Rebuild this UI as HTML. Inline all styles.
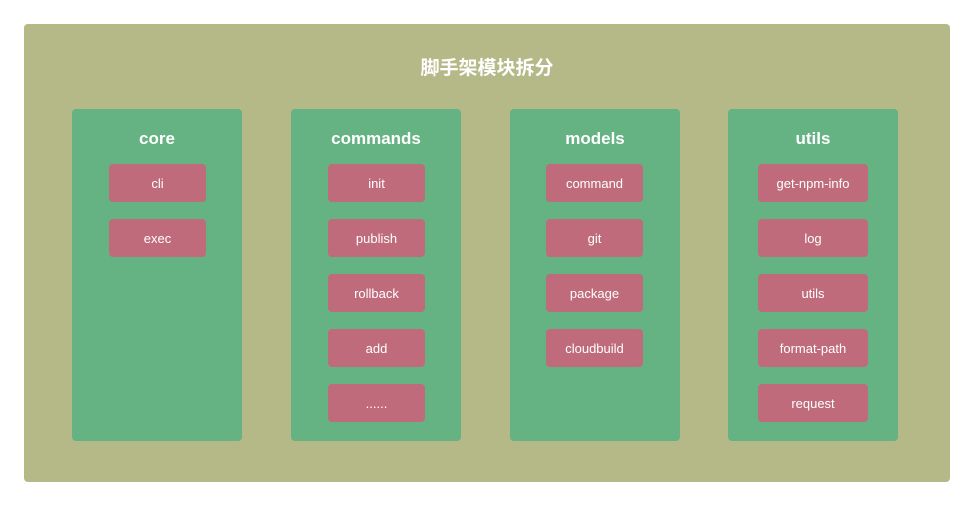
<!DOCTYPE html>
<html><head><meta charset="utf-8"><style>
body{margin:0;width:975px;height:507px;background:#fff;position:relative;font-family:"Liberation Sans","Noto Sans CJK SC",sans-serif;overflow:hidden}
.o{position:absolute;left:24px;top:24px;width:926px;height:458px;background:#b5b987;border-radius:4px}
.t{position:absolute;left:24px;width:926px;top:53px;text-align:center;color:#fff;font-weight:bold;font-size:19px}
.c{position:absolute;top:109px;width:170px;height:332px;background:#65b383;border-radius:4px}
.ct{position:absolute;top:129px;width:170px;text-align:center;color:#fff;font-weight:bold;font-size:17px}
.i{position:absolute;height:38px;line-height:40px;background:#bf6b7b;border-radius:4px;color:#fff;font-size:13px;text-align:center}
</style></head><body>
<div class="o"></div>
<div class="t">脚手架模块拆分</div>
<div class="c" style="left:72px"></div><div class="ct" style="left:72px">core</div>
<div class="c" style="left:291px"></div><div class="ct" style="left:291px">commands</div>
<div class="c" style="left:510px"></div><div class="ct" style="left:510px">models</div>
<div class="c" style="left:728px"></div><div class="ct" style="left:728px">utils</div>
<div class="i" style="left:109px;width:97px;top:164px">cli</div>
<div class="i" style="left:109px;width:97px;top:219px">exec</div>
<div class="i" style="left:328px;width:97px;top:164px">init</div>
<div class="i" style="left:328px;width:97px;top:219px">publish</div>
<div class="i" style="left:328px;width:97px;top:274px">rollback</div>
<div class="i" style="left:328px;width:97px;top:329px">add</div>
<div class="i" style="left:328px;width:97px;top:384px">......</div>
<div class="i" style="left:546px;width:97px;top:164px">command</div>
<div class="i" style="left:546px;width:97px;top:219px">git</div>
<div class="i" style="left:546px;width:97px;top:274px">package</div>
<div class="i" style="left:546px;width:97px;top:329px">cloudbuild</div>
<div class="i" style="left:758px;width:110px;top:164px">get-npm-info</div>
<div class="i" style="left:758px;width:110px;top:219px">log</div>
<div class="i" style="left:758px;width:110px;top:274px">utils</div>
<div class="i" style="left:758px;width:110px;top:329px">format-path</div>
<div class="i" style="left:758px;width:110px;top:384px">request</div>
</body></html>
